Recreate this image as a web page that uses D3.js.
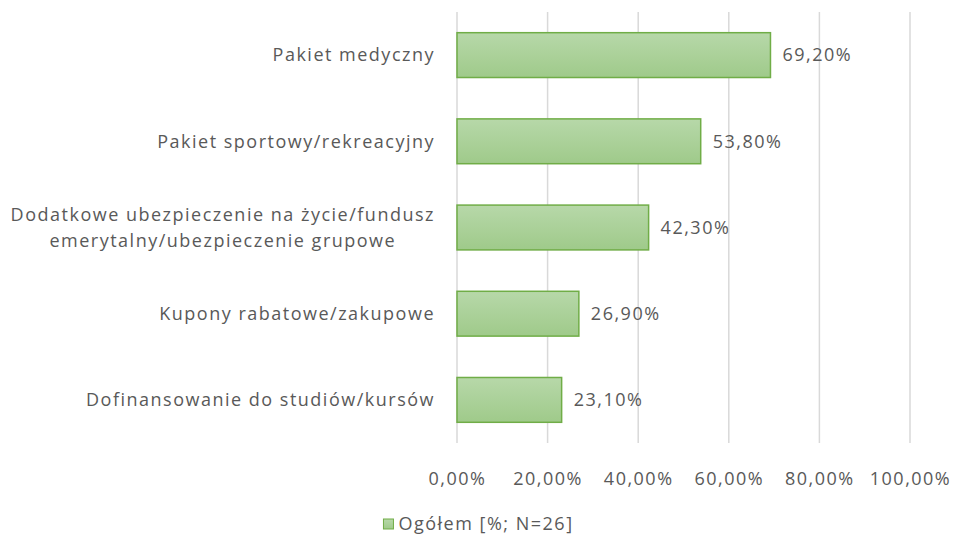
<!DOCTYPE html>
<html>
<head>
<meta charset="utf-8">
<script src="https://cdn.jsdelivr.net/npm/d3@7"></script>
<style>
  body { margin: 0; background: #fff; }
  text { font-family: "Open Sans", sans-serif; fill: #595959; letter-spacing: 1.5px; }
</style>
</head>
<body>
<svg width="957" height="540"></svg>
<script>
const categories = [
  ['Pakiet medyczny'],
  ['Pakiet sportowy/rekreacyjny'],
  ['Dodatkowe ubezpieczenie na życie/fundusz', 'emerytalny/ubezpieczenie grupowe'],
  ['Kupony rabatowe/zakupowe'],
  ['Dofinansowanie do studiów/kursów']
];
const values = [69.2, 53.8, 42.3, 26.9, 23.1];
const ticks = [0, 20, 40, 60, 80, 100];
const seriesName = 'Ogółem [%; N=26]';

const svg = d3.select('svg');
const margin = { top: 12, left: 457, right: 47, bottom: 97 };
const innerWidth = 957 - margin.left - margin.right;
const innerHeight = 540 - margin.top - margin.bottom;
const fmt = v => v.toFixed(2).replace('.', ',') + '%';

// gradient fill for bars
const grad = svg.append('defs').append('linearGradient')
  .attr('id', 'barGrad').attr('x1', 0).attr('y1', 0).attr('x2', 0).attr('y2', 1);
grad.append('stop').attr('offset', '0%').attr('stop-color', '#b7d8a9');
grad.append('stop').attr('offset', '100%').attr('stop-color', '#9fca8a');

const g = svg.append('g').attr('transform', `translate(${margin.left},${margin.top})`);

const x = d3.scaleLinear().domain([0, 100]).range([0, innerWidth]);
const y = d3.scaleBand().domain(d3.range(values.length)).range([0, innerHeight]).paddingInner(0.48).paddingOuter(0.24);

// gridlines
g.selectAll('.grid').data(ticks).join('line')
  .attr('x1', d => x(d)).attr('x2', d => x(d))
  .attr('y1', 0).attr('y2', innerHeight)
  .attr('stroke', '#d9d9d9').attr('stroke-width', 1.5);

// x axis labels
const xAxis = d3.axisBottom(x).tickValues(ticks).tickFormat(fmt).tickSize(0).tickPadding(0);
const xAxisG = g.append('g').attr('transform', `translate(0,${innerHeight})`).call(xAxis);
xAxisG.select('.domain').remove();
xAxisG.selectAll('text')
  .attr('y', 36).attr('dy', '0.35em')
  .style('font-size', '18px').style('fill', '#595959')
  .style('font-family', '"Open Sans", sans-serif');

// bars
g.selectAll('.bar').data(values).join('rect')
  .attr('x', x(0))
  .attr('y', (d, i) => y(i))
  .attr('width', d => x(d) - x(0))
  .attr('height', y.bandwidth())
  .attr('fill', 'url(#barGrad)')
  .attr('stroke', '#70ad47').attr('stroke-width', 1.5);

// value labels
g.selectAll('.val').data(values).join('text')
  .attr('x', d => x(d) + 12)
  .attr('y', (d, i) => y(i) + y.bandwidth() / 2)
  .attr('dy', '0.35em')
  .style('font-size', '18px')
  .text(d => fmt(d));

// category labels (multi-line centred within a right-aligned block)
const lineH = 26;
categories.forEach((lines, i) => {
  const cy = y(i) + y.bandwidth() / 2;
  const t = g.append('text').style('font-size', '18px');
  const spans = lines.map((s, j) => t.append('tspan')
    .attr('y', cy + (j - (lines.length - 1) / 2) * lineH)
    .attr('dy', '0.35em')
    .text(s));
  const widths = spans.map(sp => sp.node().getComputedTextLength());
  const maxW = d3.max(widths);
  const right = -22;
  spans.forEach((sp, j) => sp.attr('x', right - maxW / 2 - widths[j] / 2));
});

// legend
const legend = svg.append('g');
const legendText = legend.append('text')
  .attr('y', 524).attr('dy', '0.35em')
  .style('font-size', '18px')
  .text(seriesName);
const lw = legendText.node().getComputedTextLength();
const lx = (957 - (lw + 15)) / 2;
legendText.attr('x', lx + 15);
legend.append('rect')
  .attr('x', lx).attr('y', 519).attr('width', 10).attr('height', 10)
  .attr('fill', 'url(#barGrad)').attr('stroke', '#70ad47').attr('stroke-width', 1);
</script>
</body>
</html>
